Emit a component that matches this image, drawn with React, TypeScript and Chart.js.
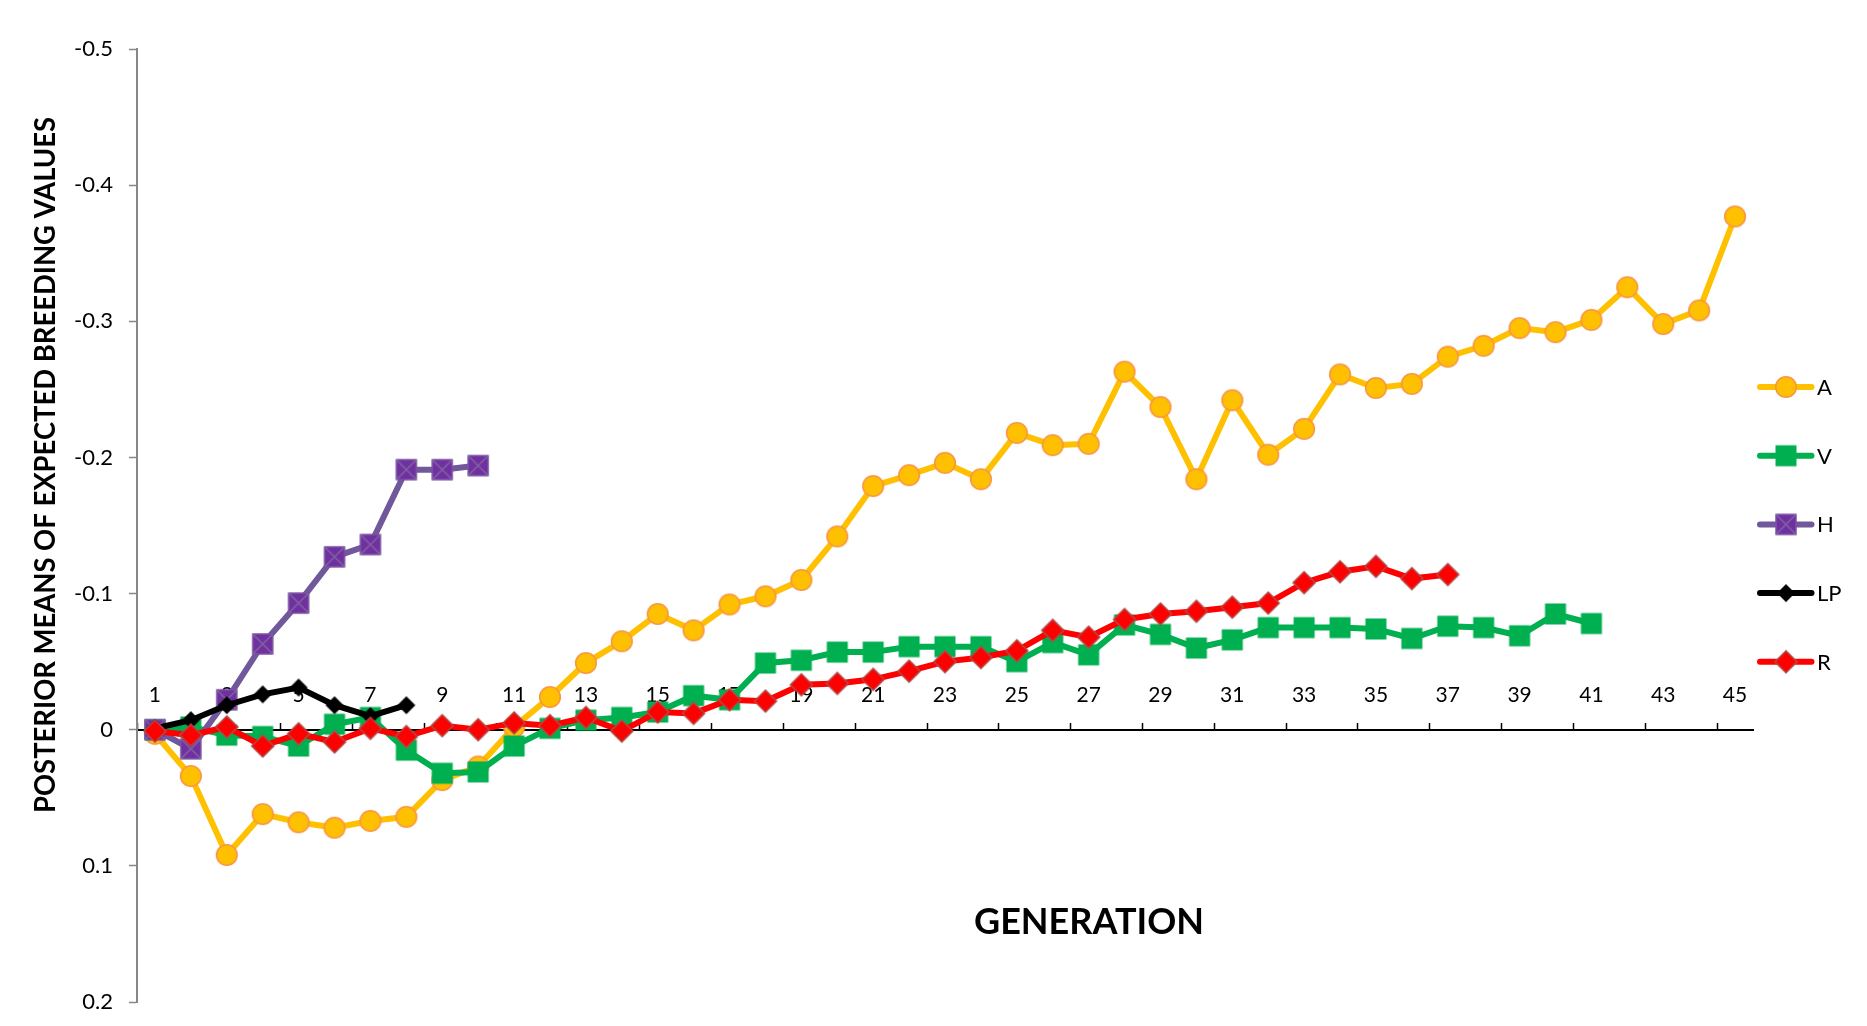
import React, { useEffect, useRef } from 'react';
import { Chart, registerables } from 'chart.js';

Chart.register(...registerables);

const GENERATIONS = ['1', '2', '3', '4', '5', '6', '7', '8', '9', '10', '11', '12', '13', '14', '15', '16', '17', '18', '19', '20', '21', '22', '23', '24', '25', '26', '27', '28', '29', '30', '31', '32', '33', '34', '35', '36', '37', '38', '39', '40', '41', '42', '43', '44', '45'];

const SERIES_A = [0.003, 0.034, 0.092, 0.062, 0.068, 0.072, 0.067, 0.064, 0.037, 0.027, -0.002, -0.024, -0.049, -0.065, -0.085, -0.073, -0.092, -0.098, -0.110, -0.142, -0.179, -0.187, -0.196, -0.184, -0.218, -0.209, -0.210, -0.263, -0.237, -0.184, -0.242, -0.202, -0.221, -0.261, -0.251, -0.254, -0.274, -0.282, -0.295, -0.292, -0.301, -0.325, -0.298, -0.308, -0.377];
const SERIES_V = [0.000, -0.002, 0.004, 0.005, 0.012, -0.004, -0.009, 0.015, 0.032, 0.031, 0.012, -0.001, -0.007, -0.009, -0.013, -0.025, -0.022, -0.049, -0.051, -0.057, -0.057, -0.061, -0.061, -0.061, -0.050, -0.064, -0.055, -0.077, -0.070, -0.060, -0.066, -0.075, -0.075, -0.075, -0.074, -0.067, -0.076, -0.075, -0.069, -0.085, -0.078];
const SERIES_H = [0.000, 0.014, -0.022, -0.063, -0.093, -0.127, -0.136, -0.191, -0.191, -0.194];
const SERIES_LP = [-0.001, -0.007, -0.018, -0.026, -0.031, -0.018, -0.010, -0.018];
const SERIES_R = [0.001, 0.004, -0.002, 0.012, 0.003, 0.009, -0.001, 0.005, -0.003, 0.000, -0.005, -0.003, -0.009, 0.001, -0.013, -0.012, -0.022, -0.021, -0.033, -0.034, -0.037, -0.043, -0.050, -0.053, -0.058, -0.073, -0.068, -0.081, -0.085, -0.087, -0.090, -0.093, -0.108, -0.116, -0.120, -0.111, -0.114];

const SERIES_NAMES = ['A', 'V', 'H', 'LP', 'R'];
const Y_TICK_VALUES = [-0.5, -0.4, -0.3, -0.2, -0.1, 0, 0.1, 0.2];
const Y_TICK_LABELS = ['-0.5', '-0.4', '-0.3', '-0.2', '-0.1', '0', '0.1', '0.2'];
const Y_TITLE = 'POSTERIOR MEANS OF EXPECTED BREEDING VALUES';
const X_TITLE = 'GENERATION';

const LINE_COLORS = ['#FFC000', '#00B050', '#71589A', '#000000', '#FF0000'];
const MARKER_KINDS = ['circle', 'square', 'squareX', 'diamondBlack', 'diamondRed'];

function makeMarker(kind: string): HTMLCanvasElement {
  const c = document.createElement('canvas');
  const size = 26;
  c.width = size;
  c.height = size;
  const g = c.getContext('2d') as CanvasRenderingContext2D;
  const m = size / 2;
  if (kind === 'circle') {
    g.beginPath();
    g.arc(m, m, 10.3, 0, Math.PI * 2);
    g.fillStyle = '#FFC000';
    g.fill();
    g.lineWidth = 1.6;
    g.strokeStyle = '#F79646';
    g.stroke();
  } else if (kind === 'square') {
    g.fillStyle = '#00B050';
    g.fillRect(m - 10.5, m - 10.5, 21, 21);
  } else if (kind === 'squareX') {
    g.fillStyle = '#7030A0';
    g.fillRect(m - 10.5, m - 10.5, 21, 21);
    g.strokeStyle = '#8064A2';
    g.lineWidth = 1;
    g.strokeRect(m - 10, m - 10, 20, 20);
    g.lineWidth = 1.5;
    g.beginPath();
    g.moveTo(m - 9.5, m - 9.5);
    g.lineTo(m + 9.5, m + 9.5);
    g.moveTo(m + 9.5, m - 9.5);
    g.lineTo(m - 9.5, m + 9.5);
    g.stroke();
  } else if (kind === 'diamondBlack') {
    const h = 9;
    g.beginPath();
    g.moveTo(m, m - h);
    g.lineTo(m + h, m);
    g.lineTo(m, m + h);
    g.lineTo(m - h, m);
    g.closePath();
    g.fillStyle = '#000000';
    g.fill();
  } else {
    const h = 11;
    g.beginPath();
    g.moveTo(m, m - h);
    g.lineTo(m + h, m);
    g.lineTo(m, m + h);
    g.lineTo(m - h, m);
    g.closePath();
    g.fillStyle = '#FF0000';
    g.fill();
    g.lineWidth = 1.5;
    g.strokeStyle = '#B04B48';
    g.stroke();
  }
  return c;
}

export default function App() {
  const ref = useRef<HTMLCanvasElement>(null);

  useEffect(() => {
    const canvas = ref.current as HTMLCanvasElement;
    const markers = MARKER_KINDS.map((k) => makeMarker(k));
    const seriesData = [SERIES_A, SERIES_V, SERIES_H, SERIES_LP, SERIES_R];

    const overlay = {
      id: 'overlay',
      afterDraw(chart: any) {
        const ctx: CanvasRenderingContext2D = chart.ctx;
        // y axis title
        ctx.save();
        ctx.translate(37, 457);
        ctx.rotate(-Math.PI / 2);
        ctx.font = 'bold 28px Lato';
        ctx.fillStyle = '#000000';
        ctx.textAlign = 'center';
        ctx.textBaseline = 'alphabetic';
        const wy = ctx.measureText(Y_TITLE).width;
        ctx.scale(696 / wy, 1);
        ctx.fillText(Y_TITLE, 0, 10);
        ctx.restore();

        // x axis title
        ctx.save();
        ctx.translate(1081, 926);
        ctx.font = 'bold 36px Lato';
        ctx.fillStyle = '#000000';
        ctx.textAlign = 'center';
        ctx.textBaseline = 'alphabetic';
        const wx = ctx.measureText(X_TITLE).width;
        ctx.scale(Math.min(1, 230 / wx), 1);
        ctx.fillText(X_TITLE, 0, 0);
        ctx.restore();

        // legend
        ctx.save();
        SERIES_NAMES.forEach((name, i) => {
          const y = 379 + i * 68.7;
          ctx.beginPath();
          ctx.lineCap = 'round';
          ctx.lineWidth = 6;
          ctx.strokeStyle = LINE_COLORS[i];
          ctx.moveTo(1752, y);
          ctx.lineTo(1803.5, y);
          ctx.stroke();
          const mk = markers[i];
          ctx.drawImage(mk, 1778 - mk.width / 2, y - mk.height / 2);
          ctx.font = '22px Lato';
          ctx.fillStyle = '#000000';
          ctx.textAlign = 'left';
          ctx.textBaseline = 'alphabetic';
          ctx.fillText(name, 1809, y + 8);
        });
        ctx.restore();
      },
    };

    const chart = new Chart(canvas, {
      type: 'line',
      data: {
        labels: GENERATIONS,
        datasets: SERIES_NAMES.map((name, i) => ({
          label: name,
          data: seriesData[i],
          borderColor: LINE_COLORS[i],
          backgroundColor: LINE_COLORS[i],
          borderWidth: 6,
          pointStyle: markers[i] as any,
          pointRadius: 10,
          pointHoverRadius: 10,
          tension: 0,
          fill: false,
          order: SERIES_NAMES.length - i,
        })),
      },
      options: {
        responsive: false,
        animation: false,
        devicePixelRatio: 1,
        layout: { padding: { left: 0, top: 41, right: 107, bottom: 9 } },
        plugins: {
          legend: { display: false },
          tooltip: { enabled: false },
          title: { display: false },
        },
        scales: {
          x: {
            type: 'category',
            position: { y: 0 } as any,
            offset: true,
            afterFit: (s: any) => {
              s.paddingTop = 0;
              s.paddingBottom = 0;
            },
            grid: {
              display: true,
              drawOnChartArea: false,
              drawTicks: true,
              tickLength: -8,
              offset: true,
              tickWidth: 1.5,
              tickColor: (c: any) => (c.index % 2 === 0 ? '#000000' : 'rgba(0,0,0,0)'),
            },
            border: { display: true, color: '#000000', width: 2 },
            ticks: {
              autoSkip: false,
              maxRotation: 0,
              minRotation: 0,
              padding: -39,
              color: '#000000',
              font: { family: 'Lato', size: 21 },
              callback: (_v: any, i: number) => (i % 2 === 0 ? GENERATIONS[i] : ''),
            },
          },
          y: {
            type: 'linear',
            reverse: true,
            min: -0.5,
            max: 0.2,
            afterBuildTicks: (s: any) => {
              s.ticks = Y_TICK_VALUES.map((v) => ({ value: v }));
            },
            afterFit: (s: any) => {
              s.width = 129;
              s.paddingTop = 0;
              s.paddingBottom = 0;
            },
            grid: {
              drawOnChartArea: false,
              drawTicks: true,
              tickLength: 8,
              tickWidth: 1.5,
              tickColor: '#878787',
            },
            border: { display: true, color: '#878787', width: 2 },
            ticks: {
              padding: 16,
              color: '#000000',
              font: { family: 'Lato', size: 22 },
              callback: (_v: any, i: number) => Y_TICK_LABELS[i],
            },
          },
        },
      },
      plugins: [overlay],
    });

    return () => chart.destroy();
  }, []);

  return (
    <div
      style={{
        width: 1852,
        height: 1010,
        borderTop: '1px solid #898989',
        borderLeft: '1px solid #898989',
        borderRight: '1px solid #898989',
        marginLeft: -1,
        marginTop: -1,
      }}
    >
      <canvas ref={ref} width={1852} height={1010} style={{ display: 'block', width: 1852, height: 1010 }} />
    </div>
  );
}
